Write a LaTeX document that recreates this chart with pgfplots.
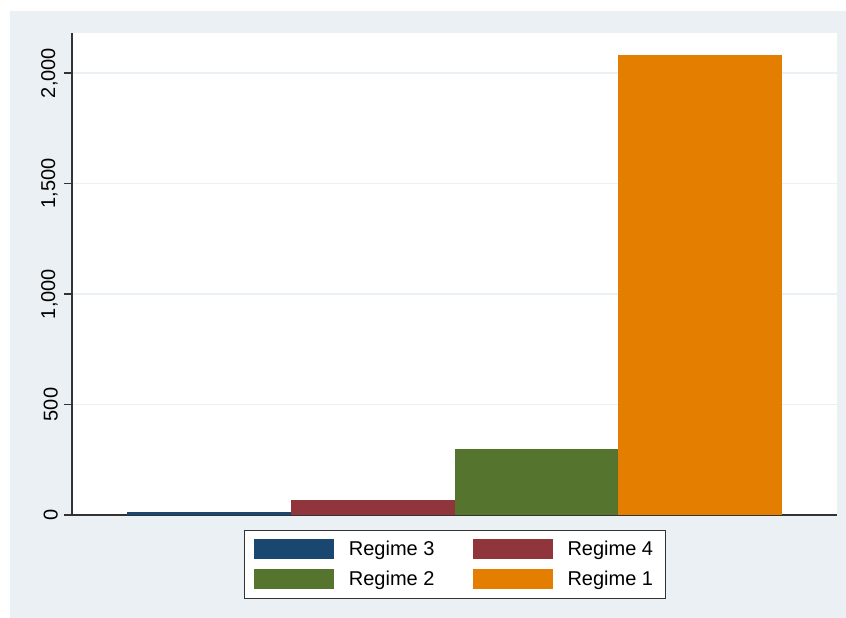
\documentclass[border=0pt]{standalone}
\usepackage{fontspec}
\setmainfont{Liberation Sans}
\usepackage{pgfplots}
\pgfplotsset{compat=1.18}

\definecolor{bggray}{RGB}{234,240,243}
\definecolor{gridc}{RGB}{234,240,243}
\definecolor{stnavy}{RGB}{26,71,111}
\definecolor{stmaroon}{RGB}{144,53,59}
\definecolor{stgreen}{RGB}{85,117,47}
\definecolor{storange}{RGB}{227,126,0}

\begin{document}
\begin{tikzpicture}[x=1pt,y=1pt]
% page and graph region
\path[use as bounding box, fill=white] (-72,-103) rectangle (774,515);
\fill[bggray] (-62,-103) rectangle (774,504);

\begin{axis}[
  scale only axis,
  width=765pt, height=482pt,
  axis background/.style={fill=white},
  xmin=0, xmax=4.672,
  ymin=0, ymax=2181,
  axis x line*=bottom, axis y line*=left,
  axis line style={draw=black!80, line width=1.2pt},
  xtick=\empty,
  ytick={0,500,1000,1500,2000},
  ymajorgrids,
  grid style={gridc, line width=1.5pt},
  tick align=outside,
  major tick length=8pt,
  tick style={black!80, line width=1.2pt},
  /pgf/number format/assume math mode=true,
  /pgf/number format/1000 sep={,},
  yticklabel style={xshift=-6pt, rotate=90, anchor=south, inner sep=0pt,
    font=\fontsize{20}{24}\selectfont},
  legend columns=2,
  legend cell align=left,
  legend style={at={(0.5,-0.031)}, anchor=north,
    draw=black!80, line width=0.8pt, fill=white,
    font=\fontsize{20}{24}\selectfont,
    inner xsep=10pt, inner ysep=9pt,
    row sep=10pt,
    /tikz/every odd column/.append style={column sep=13pt},
    /tikz/every even column/.append style={column sep=36pt}},
  legend image code/.code={\fill[#1] (0pt,-10pt) rectangle (80pt,10pt);},
]
\addplot[ybar, bar width=1, bar shift=0pt, fill=stnavy, draw=none]
  coordinates {(0.836,12)};
\addplot[ybar, bar width=1, bar shift=0pt, fill=stmaroon, draw=none]
  coordinates {(1.836,68)};
\addplot[ybar, bar width=1, bar shift=0pt, fill=stgreen, draw=none]
  coordinates {(2.836,299)};
\addplot[ybar, bar width=1, bar shift=0pt, fill=storange, draw=none]
  coordinates {(3.836,2081)};
\legend{Regime 3, Regime 4, Regime 2, Regime 1}
\end{axis}
\end{tikzpicture}
\end{document}
